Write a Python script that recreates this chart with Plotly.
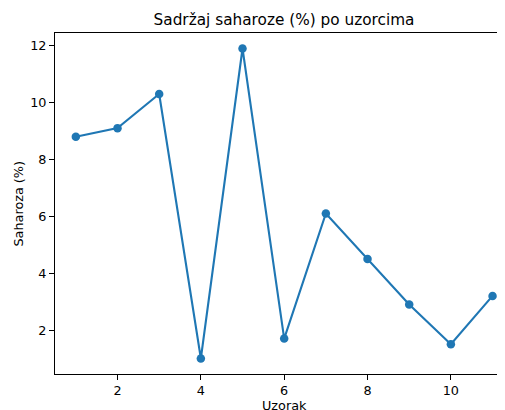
import plotly.graph_objects as go

samples = [1, 2, 3, 4, 5, 6, 7, 8, 9, 10, 11]
sucrose = [8.8, 9.1, 10.3, 1.0, 11.9, 1.7, 6.1, 4.5, 2.9, 1.5, 3.2]
x_ticks = [2, 4, 6, 8, 10]
y_ticks = [2, 4, 6, 8, 10, 12]

# page body has an 8px default margin, so the figure is drawn 8px smaller
OFF = 8
W, H = 505 - OFF, 410 - OFF
L, R, T, B = 55 - OFF, 0, 33 - OFF, 36
PW = W - L - R
PH = H - T - B

font = "DejaVu Sans"
FS = 12.8

fig = go.Figure(go.Scatter(
    x=samples, y=sucrose, mode="lines+markers",
    line=dict(color="#1f77b4", width=2.1),
    marker=dict(color="#1f77b4", size=8.5),
))

fig.update_layout(
    width=W, height=H,
    margin=dict(l=L, r=R, t=T, b=B, pad=0),
    paper_bgcolor="white", plot_bgcolor="white",
    showlegend=False,
    font=dict(family=font, size=FS, color="#000000"),
    title=dict(text="Sadržaj saharoze (%) po uzorcima", xref="container", yref="container",
               x=(284 - OFF) / W, y=1 - (20 - OFF) / H, xanchor="center", yanchor="middle",
               font=dict(family=font, size=15.3, color="#000000")),
    xaxis=dict(range=[0.5, 0.5 + PW / 41.67], tickvals=x_ticks,
               showgrid=False, zeroline=False, showline=True, mirror=True,
               linecolor="#000000", linewidth=1.1, ticks="outside", ticklen=4.9,
               tickwidth=1.1, tickcolor="#000000",
               tickfont=dict(family=font, size=FS, color="#000000")),
    yaxis=dict(range=[0.455, 12.445], tickvals=y_ticks,
               showgrid=False, zeroline=False, showline=True, mirror=False,
               linecolor="#000000", linewidth=1.1, ticks="outside", ticklen=4.9,
               tickwidth=1.1, tickcolor="#000000",
               tickfont=dict(family=font, size=FS, color="#000000")),
    annotations=[
        dict(text="Uzorak", xref="paper", yref="paper", x=(284 - OFF - L) / PW,
             y=-(405 - OFF - (H - B)) / PH, xanchor="center", yanchor="middle",
             showarrow=False, font=dict(family=font, size=FS, color="#000000")),
        dict(text="Saharoza (%)", xref="paper", yref="paper", x=-(L - (18 - OFF)) / PW,
             y=0.5, xanchor="center", yanchor="middle", textangle=-90,
             showarrow=False, font=dict(family=font, size=FS, color="#000000")),
    ],
)

fig.write_html("out.html")
